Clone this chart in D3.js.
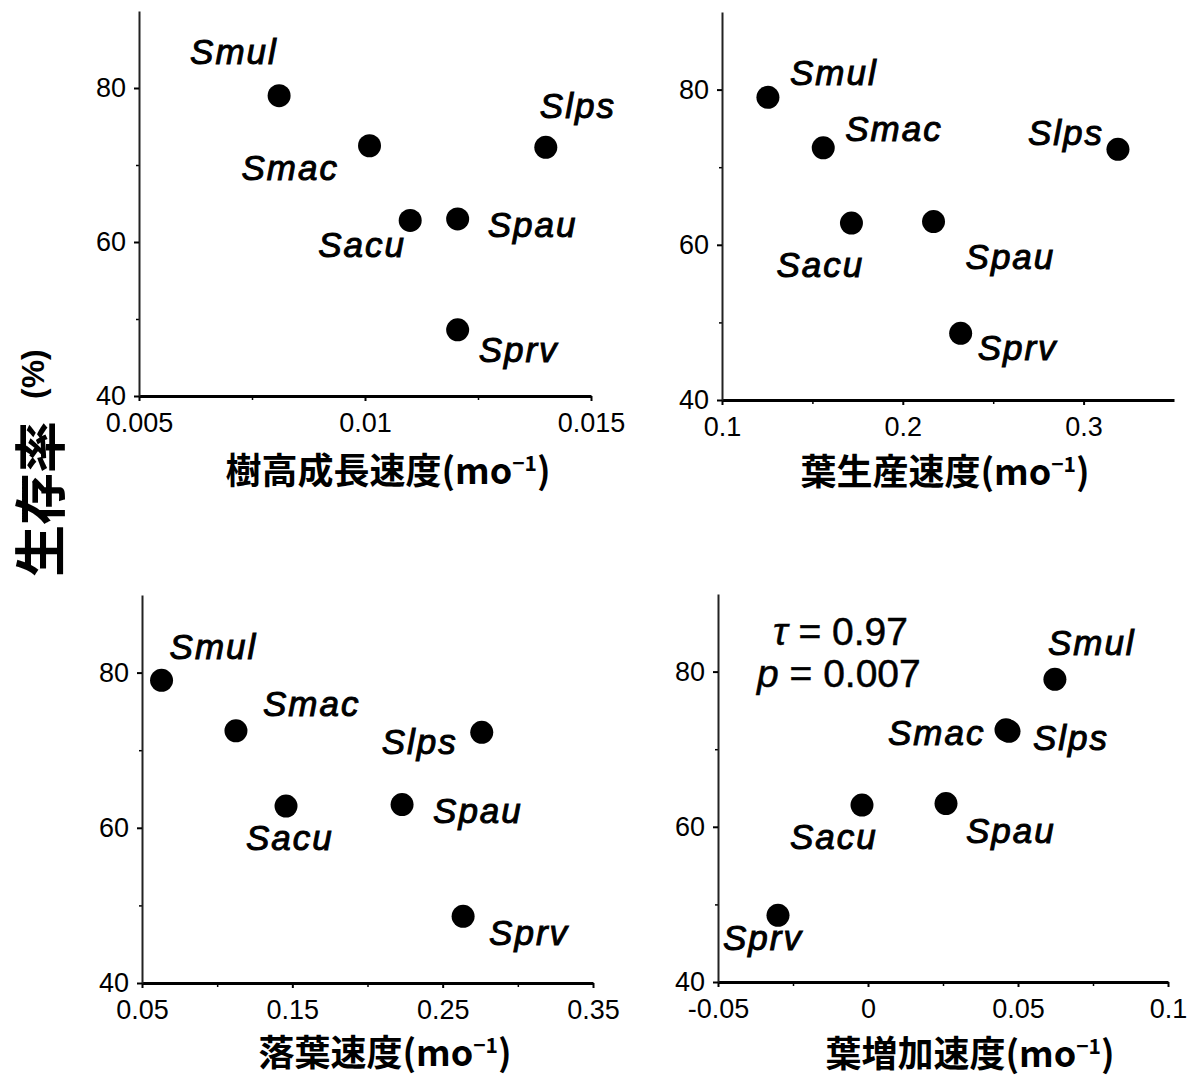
<!DOCTYPE html>
<html>
<head>
<meta charset="utf-8">
<script src="https://cdn.jsdelivr.net/npm/d3@7"></script>
<style>
	body { margin: 0; background: #fff; }
	svg { display: block; }
	.tick text { font-family: "Liberation Sans", Arial, sans-serif; font-size: 27px; fill: #000; }
	.sp { font-family: "Liberation Sans", Arial, sans-serif; font-style: italic; font-size: 35px; letter-spacing: 2px; fill: #000; stroke: #000; stroke-width: 1px; }
	.ttl { font-family: "Noto Sans CJK JP", sans-serif; font-weight: 700; font-size: 36px; fill: #000; }
	.stat { font-family: "Liberation Sans", Arial, sans-serif; font-size: 39px; fill: #000; stroke: #000; stroke-width: 0.5px; }
</style>
</head>
<body>
<div id="c"></div>
<script>
// species and survival (%) shared by all four panels
var species = ["Smul", "Smac", "Slps", "Sacu", "Spau", "Sprv"];
var survival = [79.0, 72.5, 72.3, 62.8, 63.0, 48.6];

// x values per panel (mo-1)
var height_growth = [0.0081, 0.0101, 0.0140, 0.0110, 0.01205, 0.01205];
var leaf_production = [0.1254, 0.156, 0.319, 0.1716, 0.217, 0.232];
var leaf_fall = [0.063, 0.1125, 0.276, 0.1458, 0.223, 0.2636];
var leaf_increase = [0.0623, 0.046, 0.047, -0.002, 0.026, -0.030];

var y_domain = [40, 90];
var y_ticks = [40, 60, 80];
var y_minor = [50, 70];

var x_domain_1 = [0.005, 0.015], x_ticks_1 = [0.005, 0.01, 0.015], x_minor_1 = [0.0075, 0.0125];
var x_domain_2 = [0.1, 0.35], x_ticks_2 = [0.1, 0.2, 0.3], x_minor_2 = [0.15, 0.25];
var x_domain_3 = [0.05, 0.35], x_ticks_3 = [0.05, 0.15, 0.25, 0.35], x_minor_3 = [0.1, 0.2, 0.3];
var x_domain_4 = [-0.05, 0.1], x_ticks_4 = [-0.05, 0, 0.05, 0.1], x_minor_4 = [-0.025, 0.025, 0.075];

var width = 1198;
var height = 1078;

var svg = d3.select("#c").append("svg")
	.attr("width", width)
	.attr("height", height);

// panel layout: pixel ranges, title spot and label offsets (dx, dy from dot centre)
var panels = [
	{ xs: height_growth, dom: x_domain_1, ticks: x_ticks_1, minor: x_minor_1,
	  xr: [139, 591], yr: [396, 11], title: "樹高成長速度", tx: 388, ty: 484,
	  off: [[-89, -32], [-128, 34], [-6, -29], [-92, 37], [30, 18], [21, 32]] },
	{ xs: leaf_production, dom: x_domain_2, ticks: x_ticks_2, minor: x_minor_2,
	  xr: [722, 1174], yr: [400, 12], title: "葉生産速度", tx: 945, ty: 485,
	  off: [[22, -12], [22, -7], [-90, -4], [-75, 54], [32, 47], [17, 27]] },
	{ xs: leaf_fall, dom: x_domain_3, ticks: x_ticks_3, minor: x_minor_3,
	  xr: [142, 593], yr: [983, 595], title: "落葉速度", tx: 385, ty: 1066,
	  off: [[8, -21], [27, -15], [-100, 22], [-40, 44], [31, 18], [26, 29]] },
	{ xs: leaf_increase, dom: x_domain_4, ticks: x_ticks_4, minor: x_minor_4,
	  xr: [718, 1168], yr: [982, 594], title: "葉増加速度", tx: 970, ty: 1067,
	  off: [[-7, -24], [-118, 15], [24, 19], [-72, 44], [20, 39], [-55, 35]] }
];

function tick_fmt(d) {
	// plain hyphen for negatives, as in the figure
	return String(+d.toFixed(4));
}

panels.forEach(function(p) {
	var x_scale = d3.scaleLinear().domain(p.dom).range(p.xr);
	var y_scale = d3.scaleLinear().domain(y_domain).range(p.yr);

	var g = svg.append("g");

	// minor ticks first, under the axes
	g.append("g")
		.attr("transform", "translate(0," + p.yr[0] + ")")
		.call(d3.axisBottom(x_scale).tickValues(p.minor).tickSize(4).tickFormat(""))
		.call(function(a) { a.select(".domain").remove(); a.selectAll("line").attr("stroke-width", 1.5); });

	g.append("g")
		.attr("transform", "translate(" + p.xr[0] + ",0)")
		.call(d3.axisLeft(y_scale).tickValues(y_minor).tickSize(3).tickFormat(""))
		.call(function(a) { a.select(".domain").remove(); a.selectAll("line").attr("stroke-width", 1.5); });

	g.append("g")
		.attr("transform", "translate(0," + p.yr[0] + ")")
		.call(d3.axisBottom(x_scale).tickValues(p.ticks).tickSize(5).tickSizeOuter(0).tickPadding(12)
			.tickFormat(tick_fmt))
		.call(function(a) {
			a.select(".domain").attr("stroke-width", 3);
			a.selectAll("line").attr("stroke-width", 2);
		});

	g.append("g")
		.attr("transform", "translate(" + p.xr[0] + ",0)")
		.call(d3.axisLeft(y_scale).tickValues(y_ticks).tickSize(5).tickSizeOuter(0).tickPadding(8))
		.call(function(a) {
			a.select(".domain").attr("stroke-width", 2).attr("stroke", "#222");
			a.selectAll("line").attr("stroke-width", 2);
		});

	g.selectAll("circle")
		.data(species)
		.enter()
		.append("circle")
		.attr("cx", function(d, i) { return x_scale(p.xs[i]); })
		.attr("cy", function(d, i) { return y_scale(survival[i]); })
		.attr("r", 11.5)
		.attr("fill", "#000");

	g.selectAll(".sp")
		.data(species)
		.enter()
		.append("text")
		.attr("class", "sp")
		.attr("x", function(d, i) { return x_scale(p.xs[i]) + p.off[i][0]; })
		.attr("y", function(d, i) { return y_scale(survival[i]) + p.off[i][1]; })
		.text(function(d) { return d; });

	var t = g.append("text")
		.attr("class", "ttl")
		.attr("x", p.tx)
		.attr("y", p.ty)
		.attr("text-anchor", "middle");
	t.append("tspan").text(p.title + "(mo");
	t.append("tspan").attr("font-size", 21).attr("dy", -13).text("−1");
	t.append("tspan").attr("dy", 13).text(")");
});

// kendall statistics in the last panel
var s1 = svg.append("text").attr("class", "stat").attr("x", 773).attr("y", 645);
s1.append("tspan").attr("font-style", "italic").text("τ");
s1.append("tspan").text(" = 0.97");
var s2 = svg.append("text").attr("class", "stat").attr("x", 757).attr("y", 687);
s2.append("tspan").attr("font-style", "italic").text("p");
s2.append("tspan").text(" = 0.007");

// shared y title
svg.append("text")
	.attr("transform", "translate(60,577) rotate(-90)")
	.attr("font-family", "Noto Sans CJK JP, sans-serif")
	.attr("font-weight", 700)
	.attr("font-size", 52)
	.text("生存率");

svg.append("text")
	.attr("transform", "translate(44,399) rotate(-90)")
	.attr("font-family", "Liberation Sans, Arial, sans-serif")
	.attr("font-weight", 700)
	.attr("font-size", 32)
	.text("(%)");
</script>
</body>
</html>
